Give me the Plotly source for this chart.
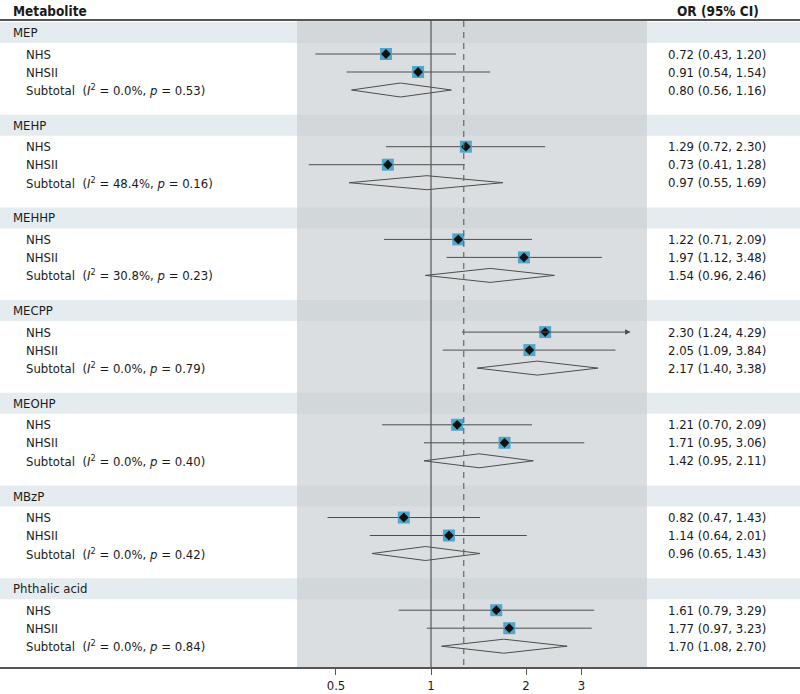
import math
import plotly.graph_objects as go

# ---------------- data ----------------
metabolites = ["MEP", "MEHP", "MEHHP", "MECPP", "MEOHP", "MBzP", "Phthalic acid"]
cohorts = ["NHS", "NHSII"]
nhs_or = [0.72, 1.29, 1.22, 2.30, 1.21, 0.82, 1.61]
nhs_lo = [0.43, 0.72, 0.71, 1.24, 0.70, 0.47, 0.79]
nhs_hi = [1.20, 2.30, 2.09, 4.29, 2.09, 1.43, 3.29]
nhs2_or = [0.91, 0.73, 1.97, 2.05, 1.71, 1.14, 1.77]
nhs2_lo = [0.54, 0.41, 1.12, 1.09, 0.95, 0.64, 0.97]
nhs2_hi = [1.54, 1.28, 3.48, 3.84, 3.06, 2.01, 3.23]
sub_or = [0.80, 0.97, 1.54, 2.17, 1.42, 0.96, 1.70]
sub_lo = [0.56, 0.55, 0.96, 1.40, 0.95, 0.65, 1.08]
sub_hi = [1.16, 1.69, 2.46, 3.38, 2.11, 1.43, 2.70]
i2_vals = ["0.0", "48.4", "30.8", "0.0", "0.0", "0.0", "0.0"]
p_vals = ["0.53", "0.16", "0.23", "0.79", "0.40", "0.42", "0.84"]
overall_or = 1.27
tick_vals = [0.5, 1, 2, 3]
tick_text = ["0.5", "1", "2", "3"]
arrow_limit = 4.0   # CIs beyond this are drawn with an arrow

# ---------------- layout constants (page pixels) ----------------
W, H = 800, 694
K = 315.6          # px per decade
X_ONE = 431.0      # px of OR = 1
AXIS_Y = 667.0
HEADER_Y = 20.0
SEC0, SEC_STEP, BAND_H = 22.0, 92.7, 21.0
ROW_OFF = [32.0, 50.0, 68.0]
PANEL_L, PANEL_R = 297.0, 647.0
FONT = "DejaVu Sans Condensed, Liberation Sans Narrow, sans-serif"
FS = 13
TXT = "#1a1a1a"
LINE = "#4d4d4d"

def px2val(px):
    return 10 ** ((px - X_ONE) / K)

x_range = [(0 - X_ONE) / K, (W - X_ONE) / K]
panel_lo, panel_hi = px2val(PANEL_L), px2val(PANEL_R)

shapes = []
annotations = []

for i in range(len(metabolites)):
    top = SEC0 + SEC_STEP * i
    shapes.append(dict(type="rect", xref="paper", yref="y", x0=0, x1=1, y0=top, y1=top + BAND_H,
                       fillcolor="#e5ecef", line=dict(width=0), layer="below"))
shapes.append(dict(type="rect", xref="x", yref="y", x0=panel_lo, x1=panel_hi, y0=HEADER_Y + 1, y1=AXIS_Y,
                   fillcolor="#dbdee0", line=dict(width=0), layer="below"))
for i in range(len(metabolites)):
    top = SEC0 + SEC_STEP * i
    shapes.append(dict(type="rect", xref="x", yref="y", x0=panel_lo, x1=panel_hi, y0=top, y1=top + BAND_H,
                       fillcolor="#d2d7d9", line=dict(width=0), layer="below"))

shapes.append(dict(type="line", xref="paper", yref="y", x0=0, x1=1, y0=HEADER_Y, y1=HEADER_Y,
                   line=dict(color="#555555", width=2)))
shapes.append(dict(type="line", xref="x", yref="y", x0=1, x1=1, y0=HEADER_Y + 1, y1=AXIS_Y,
                   line=dict(color="#555555", width=1.2)))
shapes.append(dict(type="line", xref="x", yref="y", x0=overall_or, x1=overall_or, y0=HEADER_Y + 1, y1=AXIS_Y,
                   line=dict(color="#666666", width=1.2, dash="6px,5px")))

# ---------------- traces ----------------
ci_x, ci_y = [], []
pt_x, pt_y = [], []
dia_x, dia_y = [], []
fig = go.Figure()

for i, m in enumerate(metabolites):
    top = SEC0 + SEC_STEP * i
    rows = [(nhs_or[i], nhs_lo[i], nhs_hi[i]), (nhs2_or[i], nhs2_lo[i], nhs2_hi[i])]
    for j, (o, lo, hi) in enumerate(rows):
        y = top + ROW_OFF[j]
        if hi > arrow_limit:
            annotations.append(dict(x=math.log10(hi), y=y, ax=math.log10(lo), ay=y,
                                    xref="x", yref="y", axref="x", ayref="y", text="",
                                    showarrow=True, arrowhead=2, arrowsize=1.1, arrowwidth=1,
                                    arrowcolor=LINE, standoff=0, startstandoff=0))
        else:
            ci_x += [lo, hi, None]
            ci_y += [y, y, None]
        pt_x.append(o)
        pt_y.append(y)
    ys = top + ROW_OFF[2]
    dia_x += [sub_lo[i], sub_or[i], sub_hi[i], sub_or[i], sub_lo[i], None]
    dia_y += [ys, ys - 7, ys, ys + 7, ys, None]

fig.add_trace(go.Scatter(x=ci_x, y=ci_y, mode="lines", line=dict(color=LINE, width=1),
                         hoverinfo="skip", showlegend=False))
fig.add_trace(go.Scatter(x=dia_x, y=dia_y, mode="lines", line=dict(color=LINE, width=1),
                         hoverinfo="skip", showlegend=False))
fig.add_trace(go.Scatter(x=pt_x, y=pt_y, mode="markers",
                         marker=dict(symbol="square", size=12, color="#4ea7cb", line=dict(width=0)),
                         hoverinfo="skip", showlegend=False))
fig.add_trace(go.Scatter(x=pt_x, y=pt_y, mode="markers",
                         marker=dict(symbol="diamond", size=7.5, color="#111111", line=dict(width=0)),
                         hoverinfo="skip", showlegend=False))

# ---------------- text ----------------
def txt(xpx, y, s, bold=False, size=FS):
    annotations.append(dict(xref="paper", yref="y", x=xpx / W, y=y, xanchor="left", yanchor="middle",
                            text=("<b>%s</b>" % s) if bold else s, showarrow=False,
                            font=dict(family=FONT, size=size, color=TXT)))

txt(11, 10.5, "Metabolite", bold=True, size=13.5)
txt(675, 10.5, "OR (95% CI)", bold=True, size=13.5)

def fmt(o, lo, hi):
    return "%.2f (%.2f, %.2f)" % (o, lo, hi)

for i, m in enumerate(metabolites):
    top = SEC0 + SEC_STEP * i
    txt(11, top + BAND_H / 2, m)
    txt(24, top + ROW_OFF[0], cohorts[0])
    txt(24, top + ROW_OFF[1], cohorts[1])
    txt(24, top + ROW_OFF[2],
        "Subtotal\u00a0\u00a0(<i>I</i><sup>2</sup> = %s%%, <i>p</i> = %s)" % (i2_vals[i], p_vals[i]))
    txt(666, top + ROW_OFF[0], fmt(nhs_or[i], nhs_lo[i], nhs_hi[i]))
    txt(666, top + ROW_OFF[1], fmt(nhs2_or[i], nhs2_lo[i], nhs2_hi[i]))
    txt(666, top + ROW_OFF[2], fmt(sub_or[i], sub_lo[i], sub_hi[i]))

fig.update_layout(
    width=W, height=H,
    margin=dict(l=0, r=0, t=0, b=H - AXIS_Y),
    paper_bgcolor="white", plot_bgcolor="white",
    shapes=shapes, annotations=annotations,
    xaxis=dict(type="log", range=x_range, tickvals=tick_vals, ticktext=tick_text,
               ticks="outside", ticklen=6, tickcolor="#555555", tickwidth=1,
               showline=True, linecolor="#555555", linewidth=1.5, showgrid=False, zeroline=False,
               tickfont=dict(family=FONT, size=FS, color=TXT), fixedrange=True),
    yaxis=dict(range=[AXIS_Y, 0], visible=False, fixedrange=True),
)

# remove the browser's default 8px page margin so the figure fills the window exactly
fig.write_html("out.html", config={"displayModeBar": False},
               post_script="document.body.style.margin='0';")
